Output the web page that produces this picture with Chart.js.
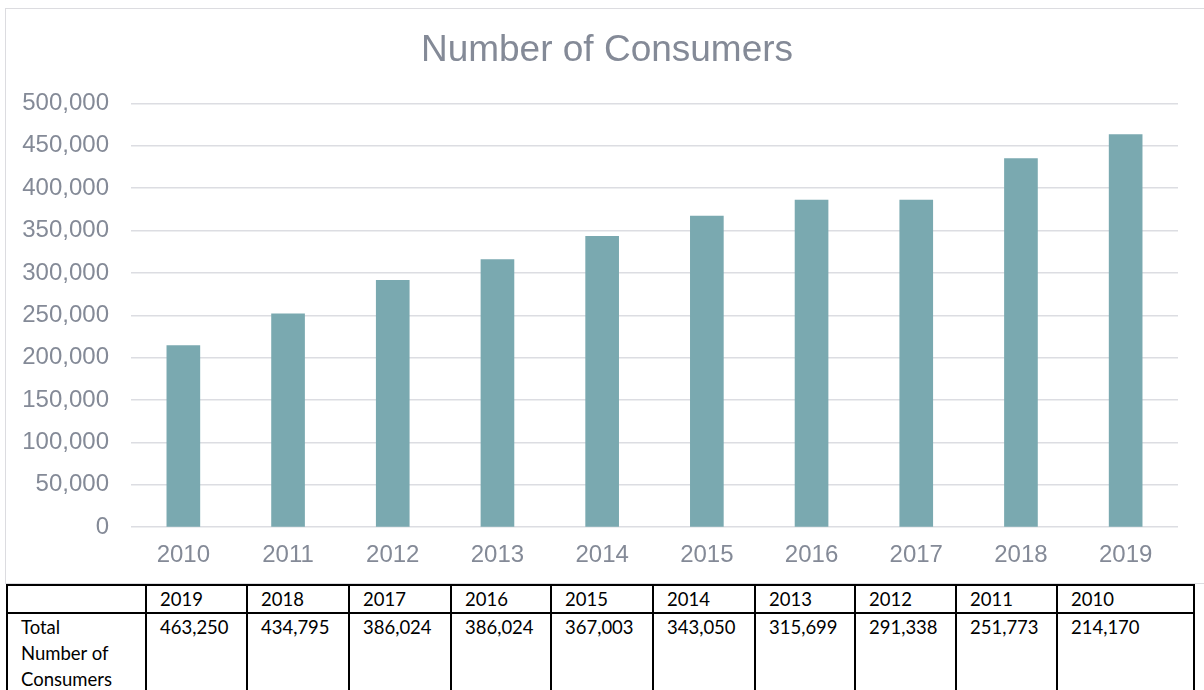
<!DOCTYPE html>
<html>
<head>
<meta charset="utf-8">
<script src="https://cdn.jsdelivr.net/npm/chart.js@4"></script>
<style>
  html, body { margin: 0; padding: 0; background: #fff; width: 1204px; height: 690px; overflow: hidden; }
  #frame { position: absolute; left: 5px; top: 8px; width: 1205px; height: 576px; border: 1px solid #dcdce0; box-sizing: border-box; }
  #wrap { position: absolute; left: 5px; top: 8px; width: 1199px; height: 576px; }
  #tbl { position: absolute; left: 6px; top: 584px; border-collapse: collapse; table-layout: fixed;
         font-family: "Lato", "Open Sans", sans-serif; font-size: 18.5px; color: #000; }
  #tbl td { border: 2px solid #000; vertical-align: top; padding: 0 0 0 13px; line-height: 26px; }
  #tbl td.lab { padding-right: 30px; }
  #tbl tr.head td { height: 24px; line-height: 26px; }
  #tbl tr.body td { height: 100px; }
</style>
</head>
<body>
<div id="frame"></div>
<div id="wrap"><canvas id="c"></canvas></div>
<table id="tbl"></table>
<script>
// Consumers per year
const years = ['2010', '2011', '2012', '2013', '2014', '2015', '2016', '2017', '2018', '2019'];
const consumers = [214170, 251773, 291338, 315699, 343050, 367003, 386024, 386024, 434795, 463250];
const yTicks = [0, 50000, 100000, 150000, 200000, 250000, 300000, 350000, 400000, 450000, 500000];
const rowLabel = 'Total Number of Consumers';
const chartTitle = 'Number of Consumers';

const colWidths = [139, 101, 102, 102, 100, 102, 102, 100, 101, 101, 137];

const fmt = v => v.toLocaleString('en-US');
const textColor = '#848a97';
const axisFont = 'Liberation Sans, Arial, sans-serif';

new Chart(document.getElementById('c'), {
  type: 'bar',
  data: {
    labels: years,
    datasets: [{
      label: chartTitle,
      data: consumers,
      backgroundColor: '#7aa9b0',
      barThickness: 33
    }]
  },
  options: {
    responsive: true,
    maintainAspectRatio: false,
    animation: false,
    layout: { padding: { top: 0, right: 0, bottom: 0, left: 5 } },
    plugins: {
      legend: { display: false },
      tooltip: { enabled: false },
      title: {
        display: true,
        text: chartTitle,
        color: textColor,
        font: { family: axisFont, size: 37, weight: 'normal' },
        padding: { top: 21, bottom: 30 }
      }
    },
    scales: {
      x: {
        grid: { display: false, drawTicks: false },
        border: { display: false },
        ticks: {
          color: textColor,
          font: { family: axisFont, size: 24 },
          padding: 14
        }
      },
      y: {
        min: 0,
        max: 500000,
        afterFit: s => { s.width = 121; },
        afterBuildTicks: s => { s.ticks = yTicks.map(v => ({ value: v })); },
        grid: { color: '#dcdde2', lineWidth: 1.5, drawTicks: false },
        border: { display: false },
        ticks: {
          color: textColor,
          font: { family: axisFont, size: 24 },
          padding: 22,
          callback: v => fmt(v)
        }
      },
      // empty right-hand margin of the plot area
      yRight: {
        position: 'right',
        min: 0,
        max: 500000,
        afterFit: s => { s.width = 26; },
        grid: { display: false, drawTicks: false },
        border: { display: false },
        ticks: { display: false }
      }
    }
  }
});

// Data table under the chart (newest year first)
const tbl = document.getElementById('tbl');
const cg = document.createElement('colgroup');
colWidths.forEach(w => { const c = document.createElement('col'); c.style.width = w + 'px'; cg.appendChild(c); });
tbl.appendChild(cg);
const head = document.createElement('tr'); head.className = 'head';
const body = document.createElement('tr'); body.className = 'body';
head.appendChild(document.createElement('td'));
const lab = document.createElement('td'); lab.className = 'lab'; lab.textContent = rowLabel; body.appendChild(lab);
for (let i = years.length - 1; i >= 0; i--) {
  const h = document.createElement('td'); h.textContent = years[i]; head.appendChild(h);
  const d = document.createElement('td'); d.textContent = fmt(consumers[i]); body.appendChild(d);
}
tbl.appendChild(head); tbl.appendChild(body);
</script>
</body>
</html>
